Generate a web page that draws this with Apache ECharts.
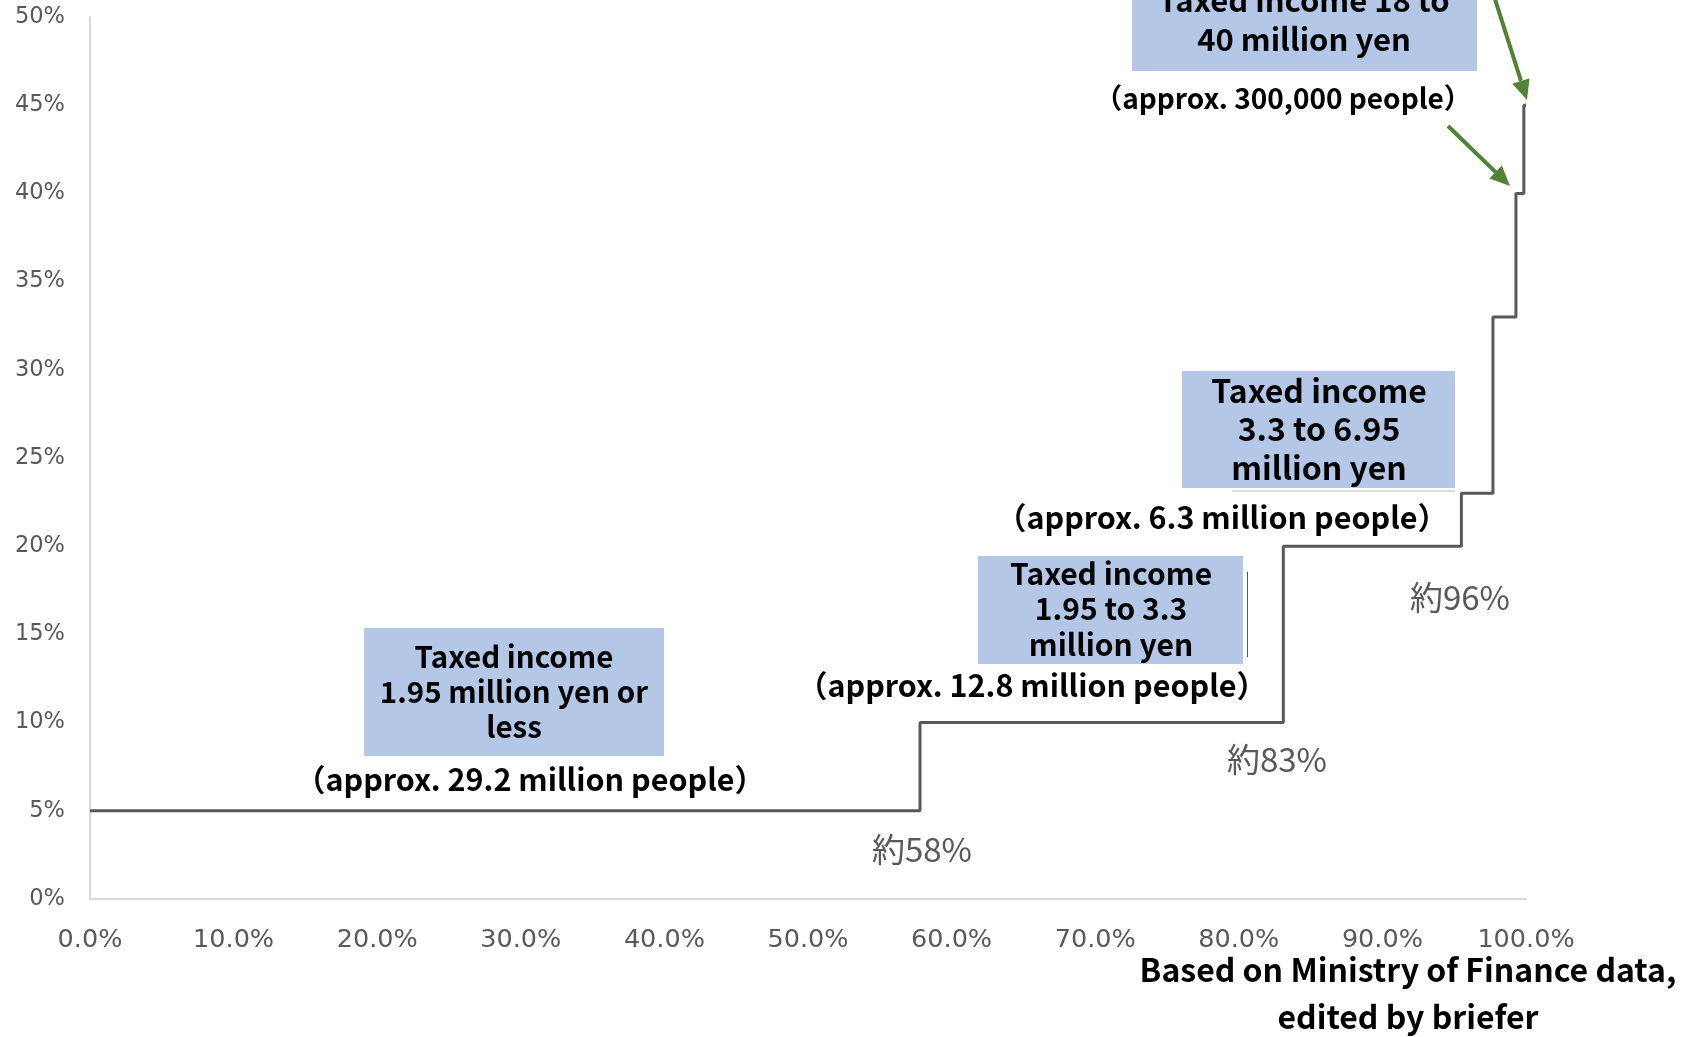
<!DOCTYPE html>
<html>
<head>
<meta charset="utf-8">
<script src="https://cdn.jsdelivr.net/npm/echarts@6/dist/echarts.min.js"></script>
<style>
html,body{margin:0;padding:0;background:#fff;}
#chart{width:1688px;height:1037px;}
</style>
</head>
<body>
<div id="chart"></div>
<script>
// Cumulative share of taxpayers (%) where each bracket begins
const bracketStartShare = [0, 57.8, 83.1, 95.5, 97.7, 99.3, 99.85];
// Marginal income tax rate (%) for each bracket
const taxRate = [5, 10, 20, 23, 33, 40, 45];
const lastShare = 100;
const xTickLabels = ['0.0%','10.0%','20.0%','30.0%','40.0%','50.0%','60.0%','70.0%','80.0%','90.0%','100.0%'];
const yTickLabels = ['0%','5%','10%','15%','20%','25%','30%','35%','40%','45%','50%'];
const boxTexts = [
  'Taxed income\n1.95 million yen or\nless',
  'Taxed income\n1.95 to 3.3\nmillion yen',
  'Taxed income\n3.3 to 6.95\nmillion yen',
  'Taxed income 18 to\n40 million yen'
];
const peopleTexts = [
  '（approx. 29.2 million people）',
  '（approx. 12.8 million people）',
  '（approx. 6.3 million people）',
  '（approx. 300,000 people）'
];
const shareLabels = ['約58%', '約83%', '約96%'];
const sourceText = 'Based on Ministry of Finance data,\nedited by briefer';

const stepData = bracketStartShare.map((s, i) => [s, taxRate[i]]).concat([[lastShare, taxRate[taxRate.length - 1]]]);

const chart = echarts.init(document.getElementById('chart'));
const BOX = '#B4C7E7';
const boldFont = (s) => 'bold ' + s + 'px "Noto Sans CJK JP", "Noto Sans", sans-serif';
const regFont = (s) => s + 'px "Noto Sans CJK JP", "Noto Sans", sans-serif';

function arrow(x1, y1, x2, y2, color) {
  const ang = Math.atan2(y2 - y1, x2 - x1);
  const L = 20, W = 9;
  const bx = x2 - L * Math.cos(ang), by = y2 - L * Math.sin(ang);
  const px = -Math.sin(ang), py = Math.cos(ang);
  return [
    { type: 'line', shape: { x1: x1, y1: y1, x2: bx, y2: by }, style: { stroke: color, lineWidth: 4 }, z: 20 },
    { type: 'polygon', shape: { points: [[x2, y2], [bx + px * W, by + py * W], [bx - px * W, by - py * W]] }, style: { fill: color }, z: 20 }
  ];
}

const graphics = [
  // box 1
  { type: 'rect', shape: { x: 364, y: 628, width: 300, height: 128 }, style: { fill: BOX }, z: 10 },
  { type: 'text', x: 514, y: 692, style: { text: boxTexts[0], font: boldFont(29.5), fill: '#000', align: 'center', verticalAlign: 'middle', lineHeight: 35 }, z: 11 },
  { type: 'text', x: 530, y: 779, style: { text: peopleTexts[0], font: boldFont(30.5), fill: '#000', align: 'center', verticalAlign: 'middle' }, z: 11 },
  // box 2
  { type: 'rect', shape: { x: 978, y: 556, width: 265, height: 108 }, style: { fill: BOX }, z: 10 },
  { type: 'line', shape: { x1: 1247.5, y1: 572, x2: 1247.5, y2: 657 }, style: { stroke: '#555', lineWidth: 1 }, z: 10 },
  { type: 'text', x: 1111, y: 609, style: { text: boxTexts[1], font: boldFont(30), fill: '#000', align: 'center', verticalAlign: 'middle', lineHeight: 35.5 }, z: 11 },
  { type: 'text', x: 1032, y: 685, style: { text: peopleTexts[1], font: boldFont(30.5), fill: '#000', align: 'center', verticalAlign: 'middle' }, z: 11 },
  // box 3
  { type: 'rect', shape: { x: 1182, y: 371, width: 273, height: 117 }, style: { fill: BOX }, z: 10 },
  { type: 'line', shape: { x1: 1232, y1: 491, x2: 1455, y2: 491 }, style: { stroke: '#d0d0d0', lineWidth: 1.5 }, z: 10 },
  { type: 'text', x: 1319, y: 429, style: { text: boxTexts[2], font: boldFont(32), fill: '#000', align: 'center', verticalAlign: 'middle', lineHeight: 38.5 }, z: 11 },
  { type: 'text', x: 1222, y: 517, style: { text: peopleTexts[2], font: boldFont(30.5), fill: '#000', align: 'center', verticalAlign: 'middle' }, z: 11 },
  // box 4
  { type: 'rect', shape: { x: 1132, y: -45, width: 345, height: 116 }, style: { fill: BOX }, z: 10 },
  { type: 'text', x: 1304, y: 20, style: { text: boxTexts[3], font: boldFont(31), fill: '#000', align: 'center', verticalAlign: 'middle', lineHeight: 39 }, z: 11 },
  { type: 'text', x: 1283, y: 98, style: { text: peopleTexts[3], font: boldFont(28), fill: '#000', align: 'center', verticalAlign: 'middle' }, z: 11 },
  // share labels
  { type: 'text', x: 922, y: 849, style: { text: shareLabels[0], font: regFont(33), fill: '#595959', align: 'center', verticalAlign: 'middle' }, z: 11 },
  { type: 'text', x: 1277, y: 759, style: { text: shareLabels[1], font: regFont(33), fill: '#595959', align: 'center', verticalAlign: 'middle' }, z: 11 },
  { type: 'text', x: 1460, y: 597, style: { text: shareLabels[2], font: regFont(33), fill: '#595959', align: 'center', verticalAlign: 'middle' }, z: 11 },
  // source
  { type: 'text', x: 1408, y: 993, style: { text: sourceText, font: boldFont(32), fill: '#000', align: 'center', verticalAlign: 'middle', lineHeight: 47 }, z: 11 }
].concat(arrow(1494, -4, 1527, 100, '#548235')).concat(arrow(1448, 126, 1510, 186, '#548235'));

chart.setOption({
  animation: false,
  backgroundColor: '#fff',
  grid: { left: 90, right: 162, top: 17, bottom: 138, containLabel: false },
  xAxis: {
    type: 'value', min: 0, max: 100, interval: 10,
    axisLine: { show: true, lineStyle: { color: '#d9d9d9', width: 2 } },
    axisTick: { show: false },
    splitLine: { show: false },
    axisLabel: {
      margin: 28, color: '#595959', fontSize: 25.5, fontFamily: 'DejaVu Sans',
      formatter: (v) => xTickLabels[Math.round(v / 10)]
    }
  },
  yAxis: {
    type: 'value', min: 0, max: 50, interval: 5,
    axisLine: { show: true, lineStyle: { color: '#d9d9d9', width: 2 } },
    axisTick: { show: false },
    splitLine: { show: false },
    axisLabel: {
      margin: 25, color: '#595959', fontSize: 22.5, fontFamily: 'DejaVu Sans',
      formatter: (v) => yTickLabels[Math.round(v / 5)]
    }
  },
  series: [{
    type: 'line',
    step: 'end',
    data: stepData,
    symbol: 'none',
    clip: false,
    lineStyle: { color: '#595959', width: 3 },
    z: 5
  }],
  graphic: graphics
});
</script>
</body>
</html>
